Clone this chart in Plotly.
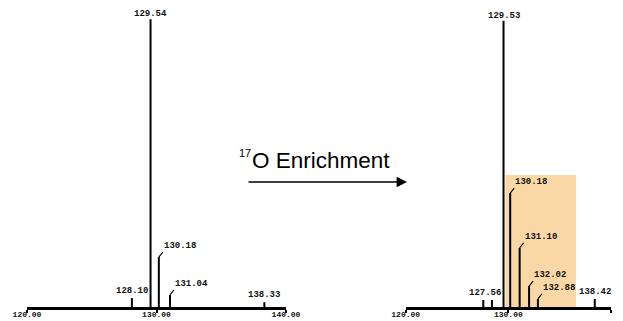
import plotly.graph_objects as go

# ---- data ----
axis_ticks = [120, 130, 140]
axis_ticktext = ["120.00", "130.00", "140.00"]

left_x = [128.10, 129.54, 130.18, 131.04, 138.33]
left_h = [3.1, 100.3, 17.4, 4.2, 1.7]
left_labels = ["128.10", "129.54", "130.18", "131.04", "138.33"]
left_leader = [False, False, True, True, False]

right_x = [127.56, 128.40, 129.53, 130.18, 131.10, 132.02, 132.88, 138.42]
right_h = [2.4, 2.4, 99.7, 39.7, 20.6, 7.3, 2.8, 2.8]
right_labels = ["127.56", "", "129.53", "130.18", "131.10", "132.02", "132.88", "138.42"]
right_leader = [False, False, False, True, True, True, True, False]

highlight_range = [129.71, 136.6]
highlight_top = 46

title_sup = "17"
title_main = "O Enrichment"

W, H = 623, 321
MONO = "Liberation Mono"
Y_TOP = 105  # axis range top
PX_PER_UNIT = 2.87
BASE_PX = 307

fig = go.Figure()


def stems(xs, hs):
    X, Y = [], []
    for x, h in zip(xs, hs):
        X += [x, x, None]
        Y += [0, h, None]
    return X, Y


for xs, hs, xa, ya in [(left_x, left_h, "x", "y"), (right_x, right_h, "x2", "y2")]:
    X, Y = stems(xs, hs)
    fig.add_trace(go.Scatter(x=X, y=Y, mode="lines", xaxis=xa, yaxis=ya,
                             line=dict(color="black", width=2), hoverinfo="skip",
                             showlegend=False))

fig.add_shape(type="rect", xref="x2", yref="y2",
              x0=highlight_range[0], x1=highlight_range[1], y0=0, y1=highlight_top,
              fillcolor="#FAD8A5", line=dict(width=0), layer="below")

label_font = dict(family=MONO, size=9, color="#111", weight="bold")

annos = []
for xs, hs, labs, lead, xa, ya in [
    (left_x, left_h, left_labels, left_leader, "x", "y"),
    (right_x, right_h, right_labels, right_leader, "x2", "y2"),
]:
    for x, h, lab, ld in zip(xs, hs, labs, lead):
        if not lab:
            continue
        if ld:
            annos.append(dict(x=x, y=h, xref=xa, yref=ya, text=lab, showarrow=True,
                              ax=4, ay=-5, xanchor="left", yanchor="bottom",
                              arrowhead=0, arrowwidth=1.1, arrowcolor="black",
                              standoff=0, startstandoff=0, borderpad=0,
                              font=label_font))
        else:
            xs_shift = 2 if lab == "127.56" else 0
            ys_shift = -2 if h > 50 else 0
            annos.append(dict(x=x, y=h, xref=xa, yref=ya, text=lab, showarrow=False,
                              xanchor="center", yanchor="bottom", xshift=xs_shift,
                              yshift=ys_shift, font=label_font))

# title text
annos.append(dict(x=250 / W, y=1 - 160 / H, xref="paper", yref="paper", text=title_main,
                  showarrow=False, xanchor="left", yanchor="middle",
                  font=dict(family="Liberation Sans", size=22.5, color="black")))
annos.append(dict(x=253 / W, y=1 - 153 / H, xref="paper", yref="paper", text=title_sup,
                  showarrow=False, xanchor="right", yanchor="middle",
                  font=dict(family="Liberation Sans", size=11, color="black")))
# arrow
annos.append(dict(x=407 / W, y=1 - 182 / H, xref="paper", yref="paper", text="",
                  showarrow=True, ax=-160, ay=0, arrowhead=2, arrowsize=1.6,
                  arrowwidth=1.3, arrowcolor="black", standoff=0))

top_px = BASE_PX - Y_TOP * PX_PER_UNIT
y_dom = [(H - BASE_PX) / H, (H - top_px) / H]
ax_common = dict(range=[120, 140], tickvals=axis_ticks, ticktext=axis_ticktext,
                 showline=True, linewidth=2.6, linecolor="black", ticks="outside",
                 ticklen=3, tickwidth=1.5, tickcolor="black", showgrid=False,
                 zeroline=False, ticklabelstandoff=-5,
                 tickfont=dict(family=MONO, size=8, color="#111", weight="bold"),
                 fixedrange=True, automargin=False)
ya_common = dict(range=[0, Y_TOP], visible=False, showgrid=False, zeroline=False,
                 domain=y_dom, fixedrange=True, automargin=False)

fig.update_layout(
    template="none",
    width=W, height=H, margin=dict(l=0, r=0, t=0, b=0, autoexpand=False),
    plot_bgcolor="white", paper_bgcolor="white", showlegend=False,
    xaxis=dict(domain=[27 / W, 286 / W], anchor="y", **ax_common),
    yaxis=dict(anchor="x", **ya_common),
    xaxis2=dict(domain=[405.7 / W, 611 / W], anchor="y2", **ax_common),
    yaxis2=dict(anchor="x2", **ya_common),
    annotations=annos,
)

fig.write_html("out.html")
